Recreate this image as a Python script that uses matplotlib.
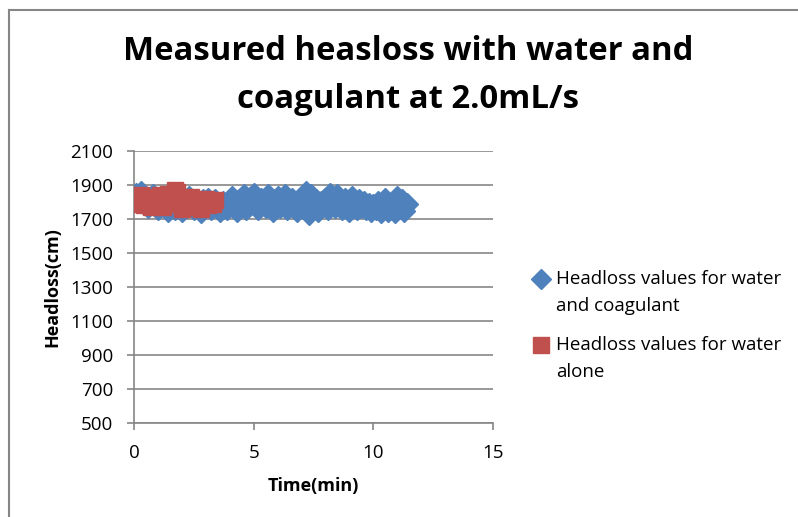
import matplotlib.pyplot as plt
from matplotlib.lines import Line2D

# Headloss data (cm) vs time (min)
time_coag = [0.0, 0.1, 0.2, 0.3, 0.4, 0.5, 0.6, 0.7, 0.8, 0.9,
             1.0, 1.1, 1.2, 1.3, 1.4, 1.5, 1.6, 1.7, 1.8, 1.9,
             2.0, 2.1, 2.2, 2.3, 2.4, 2.5, 2.6, 2.7, 2.8, 2.9,
             3.0, 3.1, 3.2, 3.3, 3.4, 3.5, 3.6, 3.7, 3.8, 3.9,
             4.0, 4.1, 4.2, 4.3, 4.4, 4.5, 4.6, 4.7, 4.8, 4.9,
             5.0, 5.1, 5.2, 5.3, 5.4, 5.5, 5.6, 5.7, 5.8, 5.9,
             6.0, 6.1, 6.2, 6.3, 6.4, 6.5, 6.6, 6.7, 6.8, 6.9,
             7.0, 7.1, 7.2, 7.3, 7.4, 7.5, 7.6, 7.7, 7.8, 7.9,
             8.0, 8.1, 8.2, 8.3, 8.4, 8.5, 8.6, 8.7, 8.8, 8.9,
             9.0, 9.1, 9.2, 9.3, 9.4, 9.5, 9.6, 9.7, 9.8, 9.9,
             10.0, 10.1, 10.2, 10.3, 10.4, 10.5, 10.6, 10.7, 10.8, 10.9,
             11.0, 11.1, 11.2, 11.3, 11.4]
headloss_coag = [1830, 1850, 1800, 1860, 1790, 1820, 1770, 1810, 1840, 1780,
                 1760, 1800, 1830, 1770, 1750, 1790, 1820, 1760, 1800, 1780,
                 1750, 1810, 1770, 1830, 1790, 1760, 1800, 1770, 1740, 1810,
                 1780, 1820, 1760, 1790, 1810, 1770, 1750, 1800, 1780, 1760,
                 1800, 1830, 1770, 1750, 1810, 1790, 1840, 1760, 1800, 1830,
                 1850, 1780, 1760, 1820, 1800, 1770, 1840, 1790, 1750, 1810,
                 1830, 1770, 1800, 1840, 1760, 1790, 1820, 1780, 1750, 1810,
                 1830, 1790, 1860, 1730, 1840, 1770, 1810, 1750, 1800, 1780,
                 1820, 1760, 1850, 1790, 1770, 1840, 1800, 1760, 1820, 1780,
                 1750, 1830, 1790, 1760, 1810, 1770, 1800, 1760, 1790, 1750,
                 1780, 1760, 1800, 1740, 1770, 1820, 1750, 1790, 1760, 1740,
                 1830, 1770, 1810, 1750, 1790]

time_water = [0.0, 0.1, 0.2, 0.3, 0.4, 0.5, 0.6, 0.7, 0.8, 0.9,
              1.0, 1.1, 1.2, 1.3, 1.4, 1.5, 1.6, 1.7, 1.8, 1.9,
              2.0, 2.1, 2.2, 2.3, 2.4, 2.5, 2.6, 2.7, 2.8, 2.9,
              3.0, 3.1, 3.2, 3.3, 3.4]
headloss_water = [1790, 1820, 1800, 1840, 1780, 1810, 1830, 1770, 1800, 1820,
                  1790, 1840, 1770, 1810, 1850, 1800, 1830, 1870, 1860, 1790,
                  1760, 1820, 1800, 1780, 1830, 1770, 1810, 1790, 1760, 1800,
                  1820, 1780, 1800, 1790, 1810]

legend_lines = [('Headloss values for water', 'and coagulant'),
                ('Headloss values for water', 'alone')]
blue = '#4F81BD'
red = '#C0504D'
grid_col = '#868686'

plt.rcParams['font.family'] = ['Open Sans', 'DejaVu Sans']

fig = plt.figure(figsize=(7.98, 5.17), dpi=100)
ax = fig.add_axes([134 / 798, 1 - 423 / 517, (493 - 134) / 798, (423 - 151) / 517])

ax.plot(time_coag, headloss_coag, linestyle='none', marker='D', ms=11,
        color=blue, mec=blue, zorder=3)
ax.plot(time_water, headloss_water, linestyle='none', marker='s', ms=11.5,
        color=red, mec=red, zorder=4)

ax.set_xlim(0, 15)
ax.set_ylim(500, 2100)
ax.set_xticks([0, 5, 10, 15])
ax.set_yticks(range(500, 2101, 200))
ax.grid(axis='y', color=grid_col, linewidth=1.2)
ax.set_axisbelow(True)
for s in ['top', 'right']:
    ax.spines[s].set_visible(False)
for s in ['left', 'bottom']:
    ax.spines[s].set_color(grid_col)
    ax.spines[s].set_linewidth(1.2)
ax.tick_params(axis='both', colors=grid_col, labelcolor='black', labelsize=13.5,
               length=5, width=1.2, direction='out')
ax.tick_params(axis='x', pad=10)
ax.tick_params(axis='y', pad=10)
ax.set_xlabel('Time(min)', fontsize=13, fontweight='bold', labelpad=11)
ax.set_ylabel('Headloss(cm)', fontsize=13, fontweight='bold', labelpad=6)

fig.text(0.511, 1 - 52 / 517, 'Measured heasloss with water and',
         ha='center', va='center', fontsize=23.7, fontweight='bold')
fig.text(0.511, 1 - 100 / 517, 'coagulant at 2.0mL/s',
         ha='center', va='center', fontsize=23.7, fontweight='bold')

# legend, drawn by hand so the marker sits on the first text line
markers = [('D', 10, blue), ('s', 11.5, red)]
rows_y = [279, 345]
for (m, size, col), (l1, l2), y in zip(markers, legend_lines, rows_y):
    fig.add_artist(Line2D([541 / 798], [1 - y / 517], linestyle='none', marker=m,
                          ms=size, color=col))
    fig.text(556 / 798, 1 - y / 517, l1, ha='left', va='center', fontsize=13.5)
    fig.text(556 / 798, 1 - (y + 27) / 517, l2, ha='left', va='center', fontsize=13.5)

# chart border (left and top)
fig.add_artist(Line2D([9 / 798, 9 / 798], [0, 1 - 10 / 517], color=grid_col, lw=1.5))
fig.add_artist(Line2D([9 / 798, 1], [1 - 10 / 517, 1 - 10 / 517], color=grid_col, lw=1.5))

fig.savefig('out.png', dpi=100)
